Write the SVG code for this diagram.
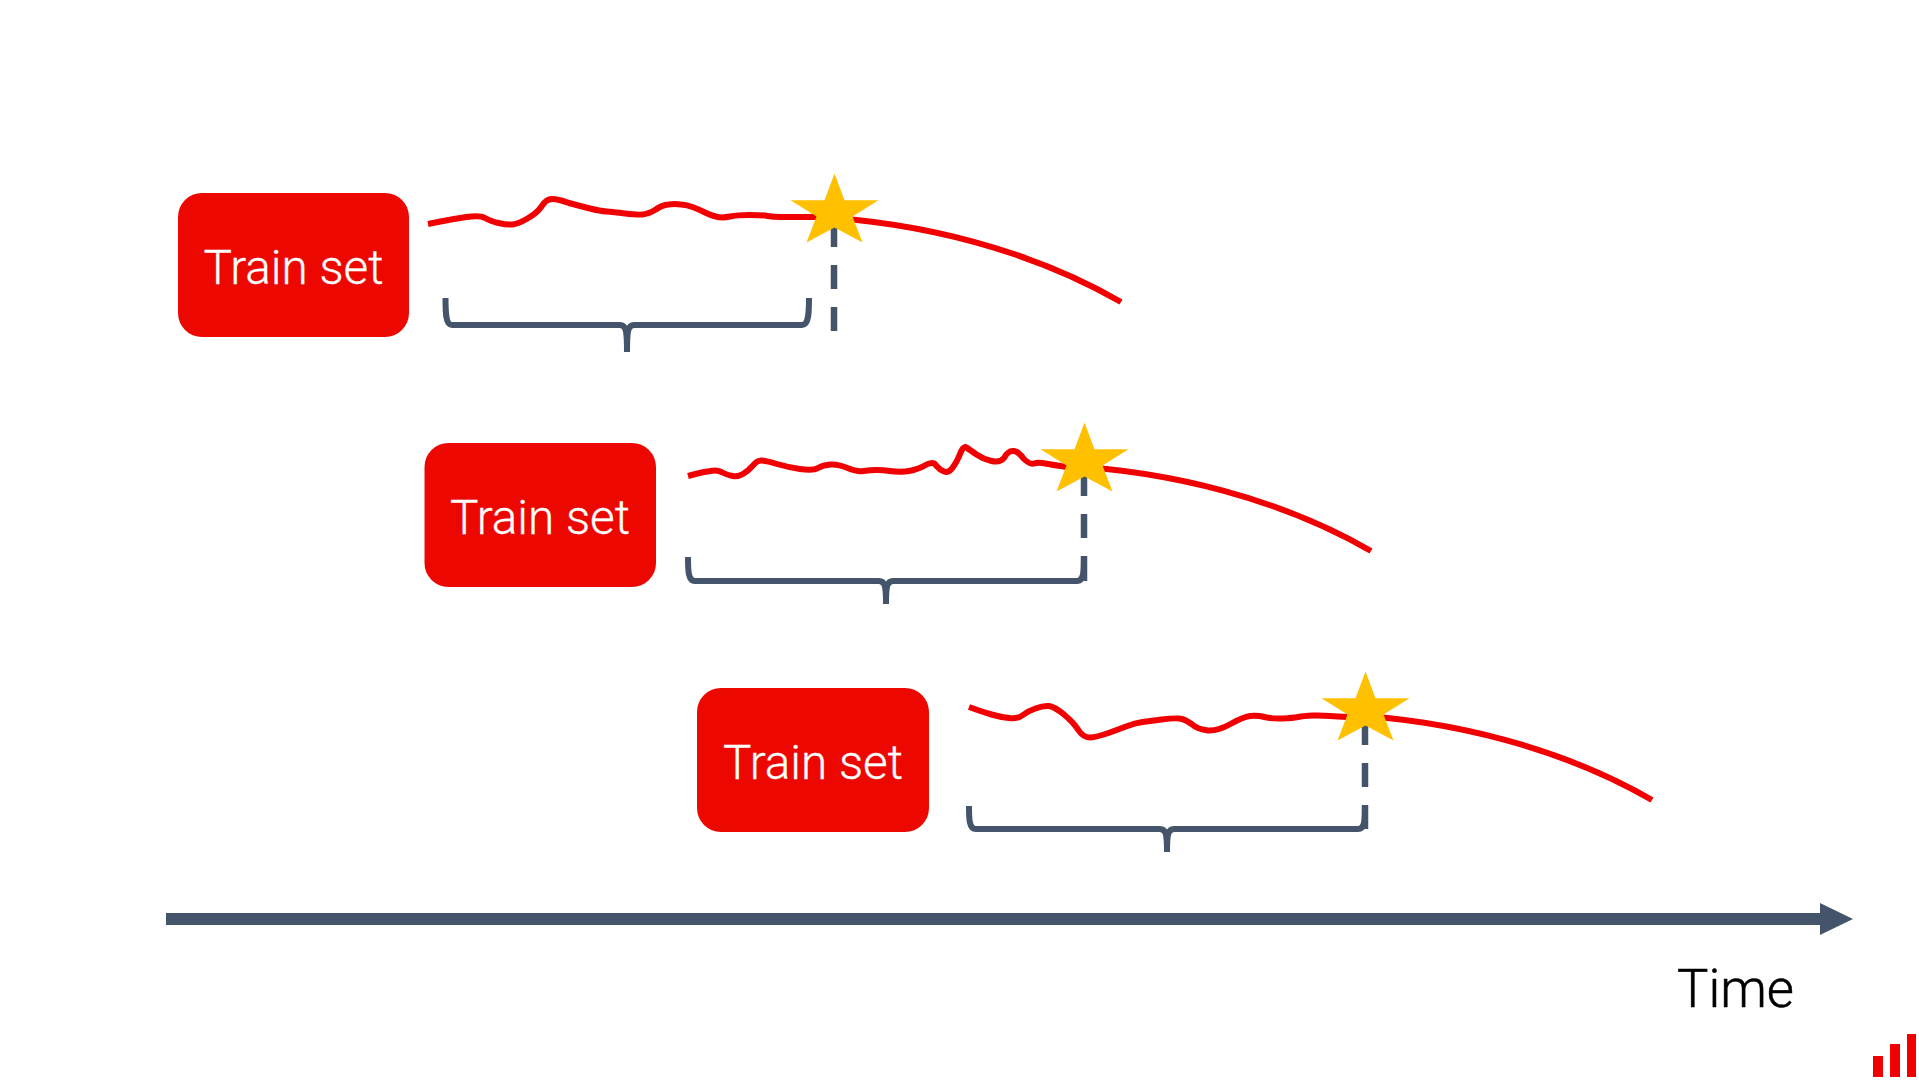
<svg xmlns="http://www.w3.org/2000/svg" width="1919" height="1080" viewBox="0 0 1919 1080">
<style>
.box{fill:#ec0800}
.lbl{font-family:Roboto,"Liberation Sans",Arial,sans-serif;font-weight:300;font-size:48px;fill:#fff;text-anchor:middle;stroke:#fff;stroke-width:.3}
.red{fill:none;stroke:#f00000;stroke-width:6;stroke-linejoin:round}
.brace{fill:none;stroke:#44546a;stroke-width:6}
.dash{fill:none;stroke:#44546a;stroke-width:6.5}
.star{fill:#ffc000}
.time{font-family:Roboto,"Liberation Sans",Arial,sans-serif;font-weight:300;font-size:54px;fill:#000;stroke:#000;stroke-width:.5}
.bar{fill:#f00000}
</style>
<defs>
<path id="tail" class="red" d="M-17 43C86 48 197 76 287 128"/>
<polygon id="starShape" class="star" points="0,0 10,26.7 44,26.7 18,43 28,69 0,54 -28,69 -18,43 -44,26.7 -10,26.7"/>
</defs>
<rect width="1919" height="1080" fill="#fff"/>
<g id="connectors">
<path class="red" d="M428 224L440.5 221.5Q453 219 466.5 217Q480 215 485 218Q490 221 498.5 223Q507 225 512.5 224.5Q518 224 527.5 218.5Q537 213 541.5 206.5Q546 199 552 199Q558 199 569 203Q580 206 590 208.5Q600 211 606.5 211.5Q613 212 625 213.5Q637 215 642.5 214.5Q648 214 655 210Q662 205 668.5 204.5Q675 203.5 681 204.5Q687 205 692.5 207Q698 209 705 212.5Q712 216 717.5 217Q723 218 730 216.5Q737 215 749.5 215Q762 215 767.5 216Q773 217 781.5 217Q790 217 817 217"/>
<use href="#tail" x="834" y="174"/>
<path class="dash" d="M834 223V247M834 265V289M834 307V331"/>
<path class="brace" d="M445.500 298C445.500 312 445.500 325 452 325L620 325C626 325 627 330 627 352C627 330 628 325 634 325L802 325C809 325 809 312 809 298"/>
<path class="red" d="M688 476L695.5 474Q703 472 710.5 471Q718 469.5 722.5 472.5Q727 475 732.5 476Q738 477 743 474Q748 471 752.5 466Q757 460 762 460.5Q767 461 777 464Q787 467 800 469Q813 471 818 468Q823 465 830.5 464.5Q838 464 847.5 468Q857 472 863.5 471Q870 470 876.5 470Q883 470 890 471Q897 472 905 471.5Q913 471 923 466.5Q933 460 936.5 466Q940 470 944 471.5Q948 473 951.5 469Q955 465 959 456.5Q963 445 966.5 447.5Q970 450 976.5 454.5Q983 459 991.5 461Q1000 463 1004 458Q1008 451 1012.5 451Q1017 450 1023.5 458.5Q1030 465 1034 463.5Q1038 462 1045.5 463.5Q1053 465 1067 467"/>
<use href="#tail" x="1084" y="423"/>
<path class="dash" d="M1084 472V496M1084 514V538M1084 556V581"/>
<path class="brace" d="M688 557C688 570 688 581 695 581L879 581C885 581 886 586 886 604C886 586 887 581 893 581L1077 581C1084 581 1084 570 1084 557"/>
<path class="red" d="M969 707L976 709.5Q983 712 991.5 714.5Q1000 717 1009 718Q1018 719 1023 715Q1028 711 1035.5 708.5Q1043 705.500 1049 706Q1055 707 1064 714.5Q1073 722 1078 729.5Q1083 737.500 1090 737.500Q1097 737 1107 733.5Q1117 730 1126 726.5Q1135 723 1142.5 722Q1150 721 1161.5 719.5Q1173 718 1179 718.5Q1185 719 1191.5 724Q1198 729.500 1208 730.500Q1218 731 1230.5 724Q1243 717 1250 716Q1257 715 1264.5 717Q1272 719 1282.5 718.5Q1293 718 1298 717Q1303 716 1313 715.5Q1323 715 1347 717"/>
<use href="#tail" x="1365" y="672"/>
<path class="dash" d="M1365 721V745M1365 763V787M1365 805V829"/>
<path class="brace" d="M969 806C969 819 969 829 976 829L1160 829C1166 829 1167 834 1167 852C1167 834 1168 829 1174 829L1358 829C1365 829 1365 819 1365 806"/>
<rect x="166" y="913" width="1654" height="12" fill="#44546a"/>
<polygon points="1820,903 1853,919 1820,935" fill="#44546a"/>
</g>
<g id="star-1"><use href="#starShape" x="834.500" y="173.500"/></g>
<g id="star-2"><use href="#starShape" x="1084.500" y="422.500"/></g>
<g id="star-3"><use href="#starShape" x="1365.500" y="671.500"/></g>
<g id="train-set-1"><rect class="box" x="178" y="193" width="231" height="144" rx="24"/><text class="lbl" x="293.5" y="283.500" textLength="180" lengthAdjust="spacingAndGlyphs">Train set</text></g>
<g id="train-set-2"><rect class="box" x="424.500" y="443" width="231.500" height="144" rx="24"/><text class="lbl" x="540" y="533.500" textLength="180" lengthAdjust="spacingAndGlyphs">Train set</text></g>
<g id="train-set-3"><rect class="box" x="697" y="688" width="232" height="144" rx="24"/><text class="lbl" x="813" y="778.500" textLength="180" lengthAdjust="spacingAndGlyphs">Train set</text></g>
<g id="time-label"><text class="time" x="1677" y="1007" textLength="117" lengthAdjust="spacingAndGlyphs">Time</text></g>
<g id="logo">
<rect class="bar" x="1873" y="1056" width="10" height="21"/>
<rect class="bar" x="1890" y="1044" width="10" height="33"/>
<rect class="bar" x="1907" y="1034" width="9" height="43"/>
</g>
</svg>
